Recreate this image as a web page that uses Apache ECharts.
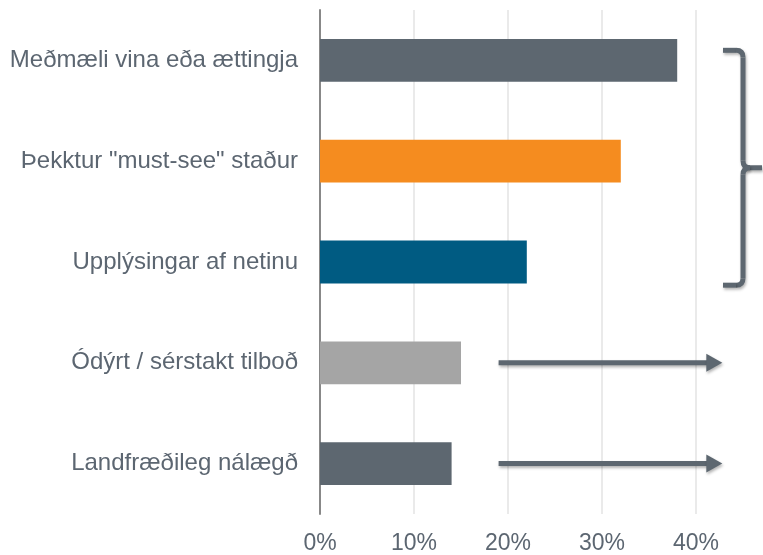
<!DOCTYPE html>
<html>
<head>
<meta charset="utf-8">
<script src="https://cdn.jsdelivr.net/npm/echarts@6/dist/echarts.min.js"></script>
<style>
  html, body { margin: 0; padding: 0; background: #fff; }
  #chart { width: 763px; height: 555px; }
</style>
</head>
<body>
<div id="chart"></div>
<script>
// flokkar og gildi (%)
var categories = ['Meðmæli vina eða ættingja', 'Þekktur "must-see" staður', 'Upplýsingar af netinu', 'Ódýrt / sérstakt tilboð', 'Landfræðileg nálægð'];
var values = [38, 32, 22, 15, 14];
var barColors = ['#5d6770', '#f58c1f', '#005b82', '#a5a5a5', '#5d6770'];
var xTicks = [0, 10, 20, 30, 40];

// örvar: frá x-gildi til x-gildis við flokk
var arrows = [
  { cat: 3, from: 19, to: 42.8 },
  { cat: 4, from: 19, to: 42.8 }
];
// sviginn nær yfir flokka 0..2
var bracket = { firstCat: 0, lastCat: 2, x: 45 };

var textColor = '#5c6671';
var markColor = '#5d6770';
var font = "'Liberation Sans', Arial, sans-serif";

var chart = echarts.init(document.getElementById('chart'));

chart.setOption({
  animation: false,
  grid: { left: 320, right: 67, top: 10, bottom: 38, containLabel: false },
  xAxis: {
    type: 'value',
    min: xTicks[0],
    max: xTicks[xTicks.length - 1],
    interval: 10,
    axisLine: { show: false },
    axisTick: { show: false },
    splitLine: { lineStyle: { color: '#e3e3e3', width: 1.5 } },
    axisLabel: { formatter: '{value}%', color: textColor, fontSize: 23, fontFamily: font, margin: 18 }
  },
  yAxis: {
    type: 'category',
    inverse: true,
    data: categories,
    axisLine: { lineStyle: { color: '#888888', width: 2 } },
    axisTick: { show: false },
    axisLabel: { color: textColor, fontSize: 24, fontFamily: font, margin: 22 }
  },
  series: [{
    type: 'bar',
    barWidth: '42.5%',
    data: values.map(function (v, i) {
      return { value: v, itemStyle: { color: barColors[i] } };
    })
  }]
});

// skýringar: sveigur og örvar, reiknaðar út frá ásum
var band = chart.convertToPixel({ yAxisIndex: 0 }, 1) - chart.convertToPixel({ yAxisIndex: 0 }, 0);

function strokeStyle() {
  return { stroke: markColor, lineWidth: 5, fill: 'none',
    shadowBlur: 3, shadowColor: 'rgba(0,0,0,0.3)', shadowOffsetX: 1, shadowOffsetY: 2 };
}
function fillStyle() {
  return { fill: markColor, shadowBlur: 3, shadowColor: 'rgba(0,0,0,0.3)', shadowOffsetX: 1, shadowOffsetY: 2 };
}
function line(x1, y1, x2, y2) {
  return { type: 'line', shape: { x1: x1, y1: y1, x2: x2, y2: y2 }, style: strokeStyle() };
}
function curve(x1, y1, cx, cy, x2, y2) {
  return { type: 'bezierCurve', shape: { x1: x1, y1: y1, cpx1: cx, cpy1: cy, x2: x2, y2: y2 }, style: strokeStyle() };
}

var graphics = [];

arrows.forEach(function (a) {
  var y = chart.convertToPixel({ yAxisIndex: 0 }, a.cat);
  var x1 = chart.convertToPixel({ xAxisIndex: 0 }, a.from);
  var x2 = chart.convertToPixel({ xAxisIndex: 0 }, a.to);
  graphics.push(line(x1, y, x2 - 12, y));
  graphics.push({
    type: 'polygon',
    shape: { points: [[x2 - 16, y - 9], [x2, y], [x2 - 16, y + 9]] },
    style: fillStyle()
  });
});

var bx = chart.convertToPixel({ xAxisIndex: 0 }, bracket.x);
var yTop = chart.convertToPixel({ yAxisIndex: 0 }, bracket.firstCat) - 0.1 * band;
var yBot = chart.convertToPixel({ yAxisIndex: 0 }, bracket.lastCat) + 0.23 * band;
var yMid = (yTop + yBot) / 2;
var r = 7;

graphics.push(line(bx - 20, yTop, bx - r, yTop));
graphics.push(curve(bx - r, yTop, bx, yTop, bx, yTop + r));
graphics.push(line(bx, yTop + r, bx, yMid - r));
graphics.push(curve(bx, yMid - r, bx, yMid, bx + r, yMid));
graphics.push(line(bx + r, yMid, bx + 19, yMid));
graphics.push(curve(bx + r, yMid, bx, yMid, bx, yMid + r));
graphics.push(line(bx, yMid + r, bx, yBot - r));
graphics.push(curve(bx, yBot - r, bx, yBot, bx - r, yBot));
graphics.push(line(bx - r, yBot, bx - 20, yBot));

chart.setOption({ graphic: { elements: graphics } });
</script>
</body>
</html>
